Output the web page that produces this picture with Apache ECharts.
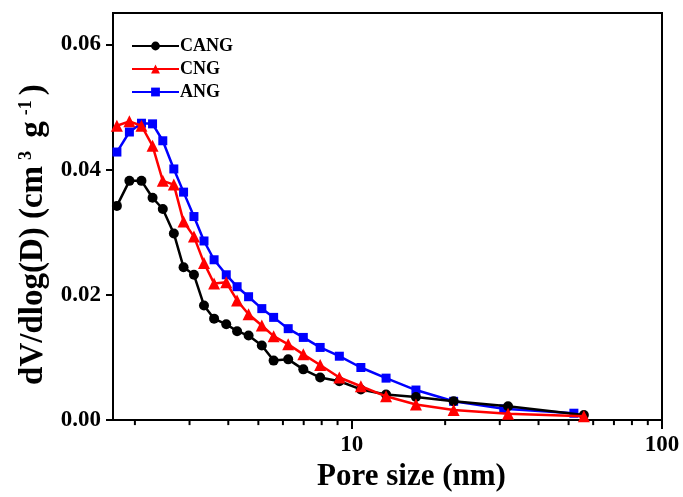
<!DOCTYPE html>
<html>
<head>
<meta charset="utf-8">
<script src="https://cdn.jsdelivr.net/npm/echarts@6/dist/echarts.min.js"></script>
<style>html,body{margin:0;padding:0;background:#fff}#c{width:683px;height:497px}</style>
</head>
<body>
<div id="c"></div>
<script>
const seriesNames = ['CANG', 'CNG', 'ANG'];
const cangPore = [1.75, 1.92, 2.10, 2.28, 2.46, 2.67, 2.87, 3.10, 3.34, 3.60, 3.94, 4.27, 4.65, 5.13, 5.60, 6.24, 6.98, 7.91, 9.12, 10.7, 12.9, 16.1, 21.3, 31.9, 56.0];
const cangValues = [0.0342, 0.0382, 0.0382, 0.0355, 0.0337, 0.0298, 0.0244, 0.0232, 0.0183, 0.0162, 0.0153, 0.0142, 0.0135, 0.0119, 0.0095, 0.0097, 0.0081, 0.0068, 0.0062, 0.0049, 0.0041, 0.0037, 0.0030, 0.0022, 0.0008];
const cngPore = [1.75, 1.92, 2.10, 2.28, 2.46, 2.67, 2.87, 3.10, 3.34, 3.60, 3.94, 4.27, 4.65, 5.13, 5.60, 6.24, 6.98, 7.91, 9.12, 10.7, 12.9, 16.1, 21.3, 31.9, 56.0];
const cngValues = [0.0470, 0.0477, 0.0470, 0.0438, 0.0382, 0.0376, 0.0317, 0.0293, 0.0251, 0.0218, 0.0220, 0.0191, 0.0169, 0.0151, 0.0134, 0.0121, 0.0105, 0.0088, 0.0068, 0.0054, 0.0038, 0.0025, 0.0016, 0.0010, 0.0006];
const angPore = [1.75, 1.92, 2.10, 2.28, 2.46, 2.67, 2.87, 3.10, 3.34, 3.60, 3.94, 4.27, 4.65, 5.13, 5.60, 6.24, 6.98, 7.91, 9.12, 10.7, 12.9, 16.1, 21.3, 30.9, 52.0];
const angValues = [0.0428, 0.0460, 0.0474, 0.0473, 0.0446, 0.0401, 0.0364, 0.0325, 0.0286, 0.0256, 0.0232, 0.0213, 0.0197, 0.0178, 0.0164, 0.0146, 0.0132, 0.0116, 0.0102, 0.0084, 0.0067, 0.0048, 0.0030, 0.0018, 0.0011];
const xMajorTicks = [10, 100];
const xMinorTicks = [2, 3, 4, 5, 6, 7, 8, 9, 20, 30, 40, 50, 60, 70, 80, 90];
const yTicks = [0, 0.02, 0.04, 0.06];

const FONT = '"Liberation Serif", "Times New Roman", serif';
function pairs(xs, ys) { return xs.map((x, i) => [x, ys[i]]); }

const chart = echarts.init(document.getElementById('c'), null, {renderer: 'canvas'});
chart.setOption({
  animation: false,
  backgroundColor: '#fff',
  grid: {left: 113, right: 21, top: 13, bottom: 75, show: true, borderColor: '#000', borderWidth: 2, backgroundColor: 'transparent'},
  legend: {
    left: 126, top: 32, orient: 'vertical', itemWidth: 47, itemHeight: 11, itemGap: 5,
    data: seriesNames,
    textStyle: {fontFamily: FONT, fontWeight: 'bold', fontSize: 18, color: '#000', padding: [0, 0, 0, -4]}
  },
  xAxis: {
    type: 'log', logBase: 10, min: 1.7, max: 100, position: 'bottom',
    splitLine: {show: false}, minorTick: {show: false}, minorSplitLine: {show: false},
    name: 'Pore size (nm)', nameLocation: 'middle', nameGap: 40,
    nameTextStyle: {fontFamily: FONT, fontWeight: 'bold', fontSize: 31, color: '#000', padding: [0, 0, 0, 48]},
    axisLine: {show: true, lineStyle: {color: '#000', width: 2}},
    axisTick: {show: true, inside: false, length: 9, lineStyle: {color: '#000', width: 2}, customValues: xMajorTicks},
    axisLabel: {show: true, margin: 13, fontFamily: FONT, fontWeight: 'bold', fontSize: 23, color: '#000', customValues: xMajorTicks, formatter: v => String(v)}
  },
  yAxis: {
    type: 'value', min: 0, max: 0.065, interval: 0.02,
    splitLine: {show: false},
    name: 'dV/dlog(D) (cm{sup|3} g{sup|-1})', nameLocation: 'middle', nameGap: 62, nameRotate: 90,
    nameTextStyle: {
      fontFamily: FONT, fontWeight: 'bold', fontSize: 33, color: '#000', padding: [0, 36, 0, 0],
      rich: {sup: {fontFamily: FONT, fontWeight: 'bold', fontSize: 18, color: '#000', verticalAlign: 'top', padding: [0, 5, 0, 6]}}
    },
    axisLine: {show: true, lineStyle: {color: '#000', width: 2}},
    axisTick: {show: true, inside: false, length: 7, lineStyle: {color: '#000', width: 2}, customValues: yTicks},
    axisLabel: {margin: 12, fontFamily: FONT, fontWeight: 'bold', fontSize: 23, color: '#000', customValues: yTicks, formatter: v => v.toFixed(2)}
  },
  series: [
    {name: 'CANG', type: 'line', data: pairs(cangPore, cangValues), symbol: 'circle', symbolSize: 10,
     itemStyle: {color: '#000'}, lineStyle: {color: '#000', width: 2.5}, z: 3},
    {name: 'CNG', type: 'line', data: pairs(cngPore, cngValues), symbol: 'triangle', symbolSize: 12,
     itemStyle: {color: '#ff0000'}, lineStyle: {color: '#ff0000', width: 2.5}, z: 4},
    {name: 'ANG', type: 'line', data: pairs(angPore, angValues), symbol: 'rect', symbolSize: 9,
     itemStyle: {color: '#0000ff'}, lineStyle: {color: '#0000ff', width: 2.5}, z: 2},
    {name: 'minorTicks', type: 'custom', clip: false, silent: true, z: 1,
     data: xMinorTicks.map(v => [v, 0]),
     renderItem: function (params, api) {
       const p = api.coord([api.value(0), 0]);
       return {type: 'line', shape: {x1: p[0], y1: p[1], x2: p[0], y2: p[1] + 5},
               style: {stroke: '#000', lineWidth: 2}};
     }}
  ]
});
</script>
</body>
</html>
